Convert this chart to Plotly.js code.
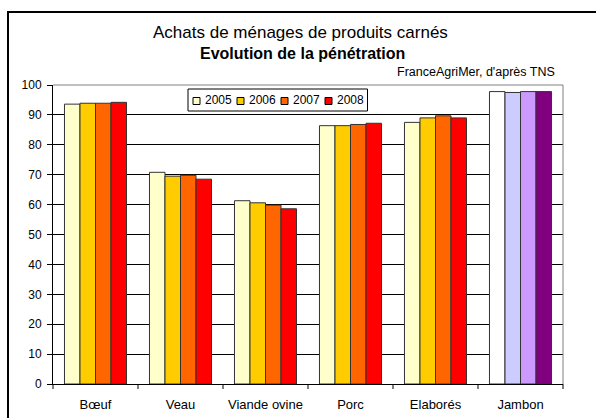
<!DOCTYPE html>
<html><head><meta charset="utf-8">
<script src="https://cdn.plot.ly/plotly-3.0.1.min.js"></script>
<style>html,body{margin:0;padding:0;background:#fff}#chart{width:596px;height:418px}</style>
</head><body><div id="chart"></div>
<script>
var categories = ["Bœuf", "Veau", "Viande ovine", "Porc", "Elaborés", "Jambon"];
var years = ["2005", "2006", "2007", "2008"];
var v2005 = [93.6, 70.8, 61.3, 86.4, 87.5, 97.8];
var v2006 = [93.9, 69.5, 60.6, 86.4, 89.0, 97.5];
var v2007 = [93.9, 69.8, 59.8, 86.8, 89.7, 97.8];
var v2008 = [94.2, 68.5, 58.6, 87.2, 89.0, 97.8];
var yearColors = ["#FFFFCC", "#FFCC00", "#FF6600", "#FF0000"];
var jambonColors = ["#FFFFFF", "#CCCCFF", "#CC99FF", "#800080"];
var series = [v2005, v2006, v2007, v2008];

var FONT = "Arial, 'Liberation Sans', sans-serif";
var traces = series.map(function(vals, i){
  var cols = categories.map(function(c){ return c === "Jambon" ? jambonColors[i] : yearColors[i]; });
  return {
    type: "bar", name: years[i], x: categories, y: vals,
    marker: {color: cols, line: {color: "#333333", width: 1}},
    hoverinfo: "y", showlegend: false
  };
});

// plot area in px: x 53..563, y 85..384
var L = 53, R = 33, T = 85, B = 34, PW = 510, PH = 299;
function px(x){ return (x - L) / PW; }
function py(y){ return (T + PH - y) / PH; }

var layout = {
  width: 596, height: 418,
  margin: {l: L, r: R, t: T, b: B, pad: 0},
  paper_bgcolor: "#FFFFFF", plot_bgcolor: "#FFFFFF",
  font: {family: FONT, size: 12, color: "#000"},
  barmode: "group", bargap: 0.27, bargroupgap: 0,
  showlegend: false,
  xaxis: {
    type: "category", showgrid: false, zeroline: false,
    showline: true, linecolor: "#000", linewidth: 1,
    ticks: "", tickfont: {family: FONT, size: 13, color: "#000"}, ticklabelstandoff: 8,
    fixedrange: true
  },
  yaxis: {
    range: [0, 100], tickvals: [0,10,20,30,40,50,60,70,80,90,100],
    showgrid: true, gridcolor: "#000000", gridwidth: 1, zeroline: false,
    showline: true, linecolor: "#000", linewidth: 1,
    ticks: "outside", ticklen: 5, tickcolor: "#000",
    tickfont: {family: FONT, size: 12, color: "#000"}, ticklabelstandoff: 3,
    fixedrange: true
  },
  shapes: [
    {type: "line", xref: "paper", yref: "paper", x0: 0, x1: 1, y0: 1, y1: 1, line: {color: "#808080", width: 1}},
    {type: "line", xref: "paper", yref: "paper", x0: 1, x1: 1, y0: 0, y1: 1, line: {color: "#808080", width: 1}},
    {type: "rect", xref: "paper", yref: "paper", x0: px(8), x1: px(610), y0: py(430), y1: py(12), line: {color: "#000", width: 2}, fillcolor: "rgba(0,0,0,0)", layer: "above"},
    // legend box
    {type: "rect", xref: "paper", yref: "paper", x0: px(188), x1: px(367.5), y0: py(111), y1: py(89), line: {color: "#000", width: 1}, fillcolor: "#FFFFFF", layer: "above"}
  ],
  annotations: [
    {text: "Achats de ménages de produits carnés", xref: "paper", yref: "paper", x: px(300), y: py(33), xanchor: "center", yanchor: "middle", showarrow: false, font: {family: FONT, size: 17, color: "#000"}},
    {text: "<b>Evolution de la pénétration</b>", xref: "paper", yref: "paper", x: px(302), y: py(53), xanchor: "center", yanchor: "middle", showarrow: false, font: {family: FONT, size: 16, color: "#000"}},
    {text: "FranceAgriMer, d'après TNS", xref: "paper", yref: "paper", x: px(557), y: py(72), xanchor: "right", yanchor: "middle", showarrow: false, font: {family: FONT, size: 12.5, color: "#000"}}
  ]
};
// legend entries (custom, compact like the original)
years.forEach(function(yr, i){
  var x0 = 193 + i * 44;
  layout.shapes.push({type: "rect", xref: "paper", yref: "paper", x0: px(x0), x1: px(x0 + 7), y0: py(104.5), y1: py(97.5), line: {color: "#000", width: 1}, fillcolor: yearColors[i], layer: "above"});
  layout.annotations.push({text: yr, xref: "paper", yref: "paper", x: px(x0 + 10), y: py(100.5), xanchor: "left", yanchor: "middle", showarrow: false, font: {family: FONT, size: 12, color: "#000"}});
});
// x-axis category boundary ticks
var n = categories.length;
for (var k = 0; k <= n; k++) {
  layout.shapes.push({type: "line", xref: "paper", yref: "paper", x0: k / n, x1: k / n, y0: 0, y1: -5 / PH, line: {color: "#000", width: 1}});
}
Plotly.newPlot("chart", traces, layout, {displayModeBar: false, staticPlot: true});
</script></body></html>
